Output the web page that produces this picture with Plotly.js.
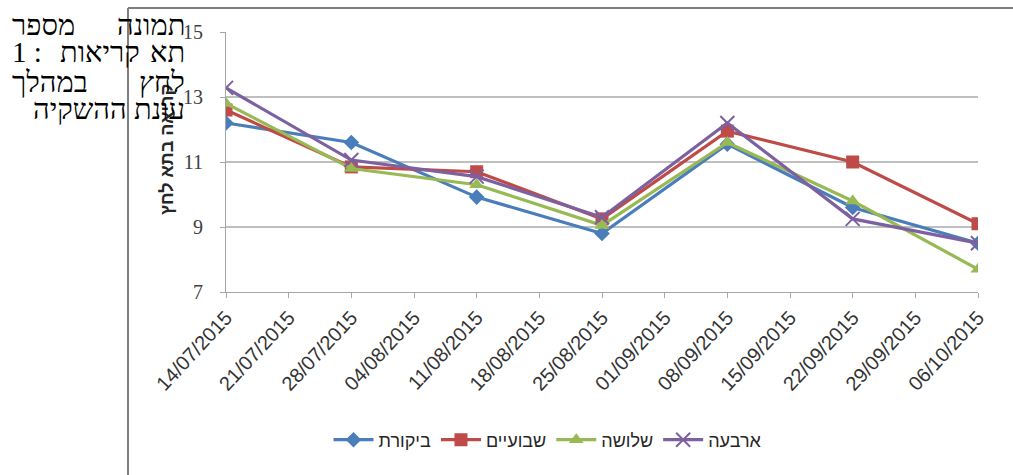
<!DOCTYPE html>
<html><head><meta charset="utf-8">
<script src="https://cdn.plot.ly/plotly-3.0.1.min.js"></script>
<style>html,body{margin:0;padding:0;background:#fff}#chart{width:1013px;height:475px}</style>
</head><body><div id="chart"></div>
<script>
const dates = ['2015-07-14','2015-07-28','2015-08-11','2015-08-25','2015-09-08','2015-09-22','2015-10-06'];
const seriesNames = ['ביקורת','שבועיים','שלושה','ארבעה'];
const control = [12.2, 11.6, 9.92, 8.8, 11.55, 9.6, 8.5];
const twoWeeks = [12.6, 10.85, 10.7, 9.25, 11.95, 11.0, 9.1];
const threeWeeks = [12.8, 10.8, 10.3, 9.05, 11.6, 9.8, 7.7];
const fourWeeks = [13.28, 11.06, 10.55, 9.3, 12.2, 9.25, 8.5];
const yTitle = 'קריאה בתא לחץ';

const L = 226, R = 978, T = 32, B = 292, W = 1013, H = 475;
const px = x => (x - L) / (R - L);
const py = y => (B - y) / (B - T);

const colors = ['#4a7ebb','#be4b48','#98b954','#7d60a0'];
const symbols = ['diamond','square','triangle-up','x-thin'];
const sizes = [12, 13, 13, 14];
const vals = [control, twoWeeks, threeWeeks, fourWeeks];

const traces = vals.map((v, i) => ({
  x: dates, y: v, name: seriesNames[i], type: 'scatter', mode: 'lines+markers',
  line: {color: colors[i], width: 3.2},
  marker: {symbol: symbols[i], size: sizes[i], color: colors[i],
    line: {color: colors[i], width: i === 3 ? 2 : 0}}
}));

const serif = 'Liberation Serif, Times New Roman, serif';
const textFont = {family: serif, size: 29, color: '#000'};
const annotations = [
  {text: 'תמונה', x: px(186), xanchor: 'right', y: py(25)},
  {text: 'מספר', x: px(11), xanchor: 'left', y: py(25)},
  {text: '1 :', x: px(11), xanchor: 'left', y: py(52)},
  {text: 'קריאות', x: px(141), xanchor: 'right', y: py(52)},
  {text: 'תא', x: px(186), xanchor: 'right', y: py(52)},
  {text: 'לחץ', x: px(186), xanchor: 'right', y: py(82)},
  {text: 'במהלך', x: px(11), xanchor: 'left', y: py(82)},
  {text: 'עונת ההשקיה', x: px(186), xanchor: 'right', y: py(109)}
].map(a => Object.assign({xref: 'paper', yref: 'paper', yanchor: 'middle', showarrow: false, font: textFont, borderpad: 0}, a));

annotations.unshift({
  text: '<b>' + yTitle + '</b>', xref: 'paper', yref: 'paper', x: px(167), y: py(150),
  xanchor: 'center', yanchor: 'middle', textangle: -90, showarrow: false,
  font: {family: 'Liberation Sans, Arial, sans-serif', size: 18, color: '#262626'}
});

const layout = {
  width: W, height: H,
  margin: {l: L, r: W - R, t: T, b: H - B, pad: 0},
  paper_bgcolor: '#fff', plot_bgcolor: '#fff',
  showlegend: true,
  legend: {orientation: 'h', x: px(548), xanchor: 'center', y: py(440), yanchor: 'middle',
    font: {family: 'Liberation Sans, Arial, sans-serif', size: 18, color: '#262626'},
    itemwidth: 40, tracegroupgap: 0},
  xaxis: {
    type: 'date', range: ['2015-07-14','2015-10-06'],
    tick0: '2015-07-14', dtick: 7 * 86400000, tickformat: '%d/%m/%Y', tickangle: -47,
    showgrid: false, zeroline: false, showline: true, linecolor: '#a6a6a6', linewidth: 1,
    ticks: 'outside', ticklen: 5, tickcolor: '#a6a6a6',
    tickfont: {family: 'Liberation Sans, Arial, sans-serif', size: 20, color: '#333'}
  },
  yaxis: {
    range: [7, 15], dtick: 2, tick0: 7, showgrid: true, gridcolor: '#bfbfbf', gridwidth: 1.5,
    zeroline: false, showline: true, linecolor: '#a6a6a6', linewidth: 1,
    ticks: 'outside', ticklen: 5, tickcolor: '#a6a6a6', ticklabelstandoff: 13,
    tickfont: {family: serif, size: 20, color: '#404040'}
  },
  annotations: annotations,
  shapes: [
    {type: 'line', xref: 'paper', yref: 'paper', x0: px(128), x1: px(128), y0: py(8), y1: py(475), line: {color: '#7f7f7f', width: 2}},
    {type: 'line', xref: 'paper', yref: 'paper', x0: px(128), x1: px(1013), y0: py(8), y1: py(8), line: {color: '#7f7f7f', width: 2}}
  ]
};

Plotly.newPlot('chart', traces, layout, {displayModeBar: false, staticPlot: true});
</script></body></html>
